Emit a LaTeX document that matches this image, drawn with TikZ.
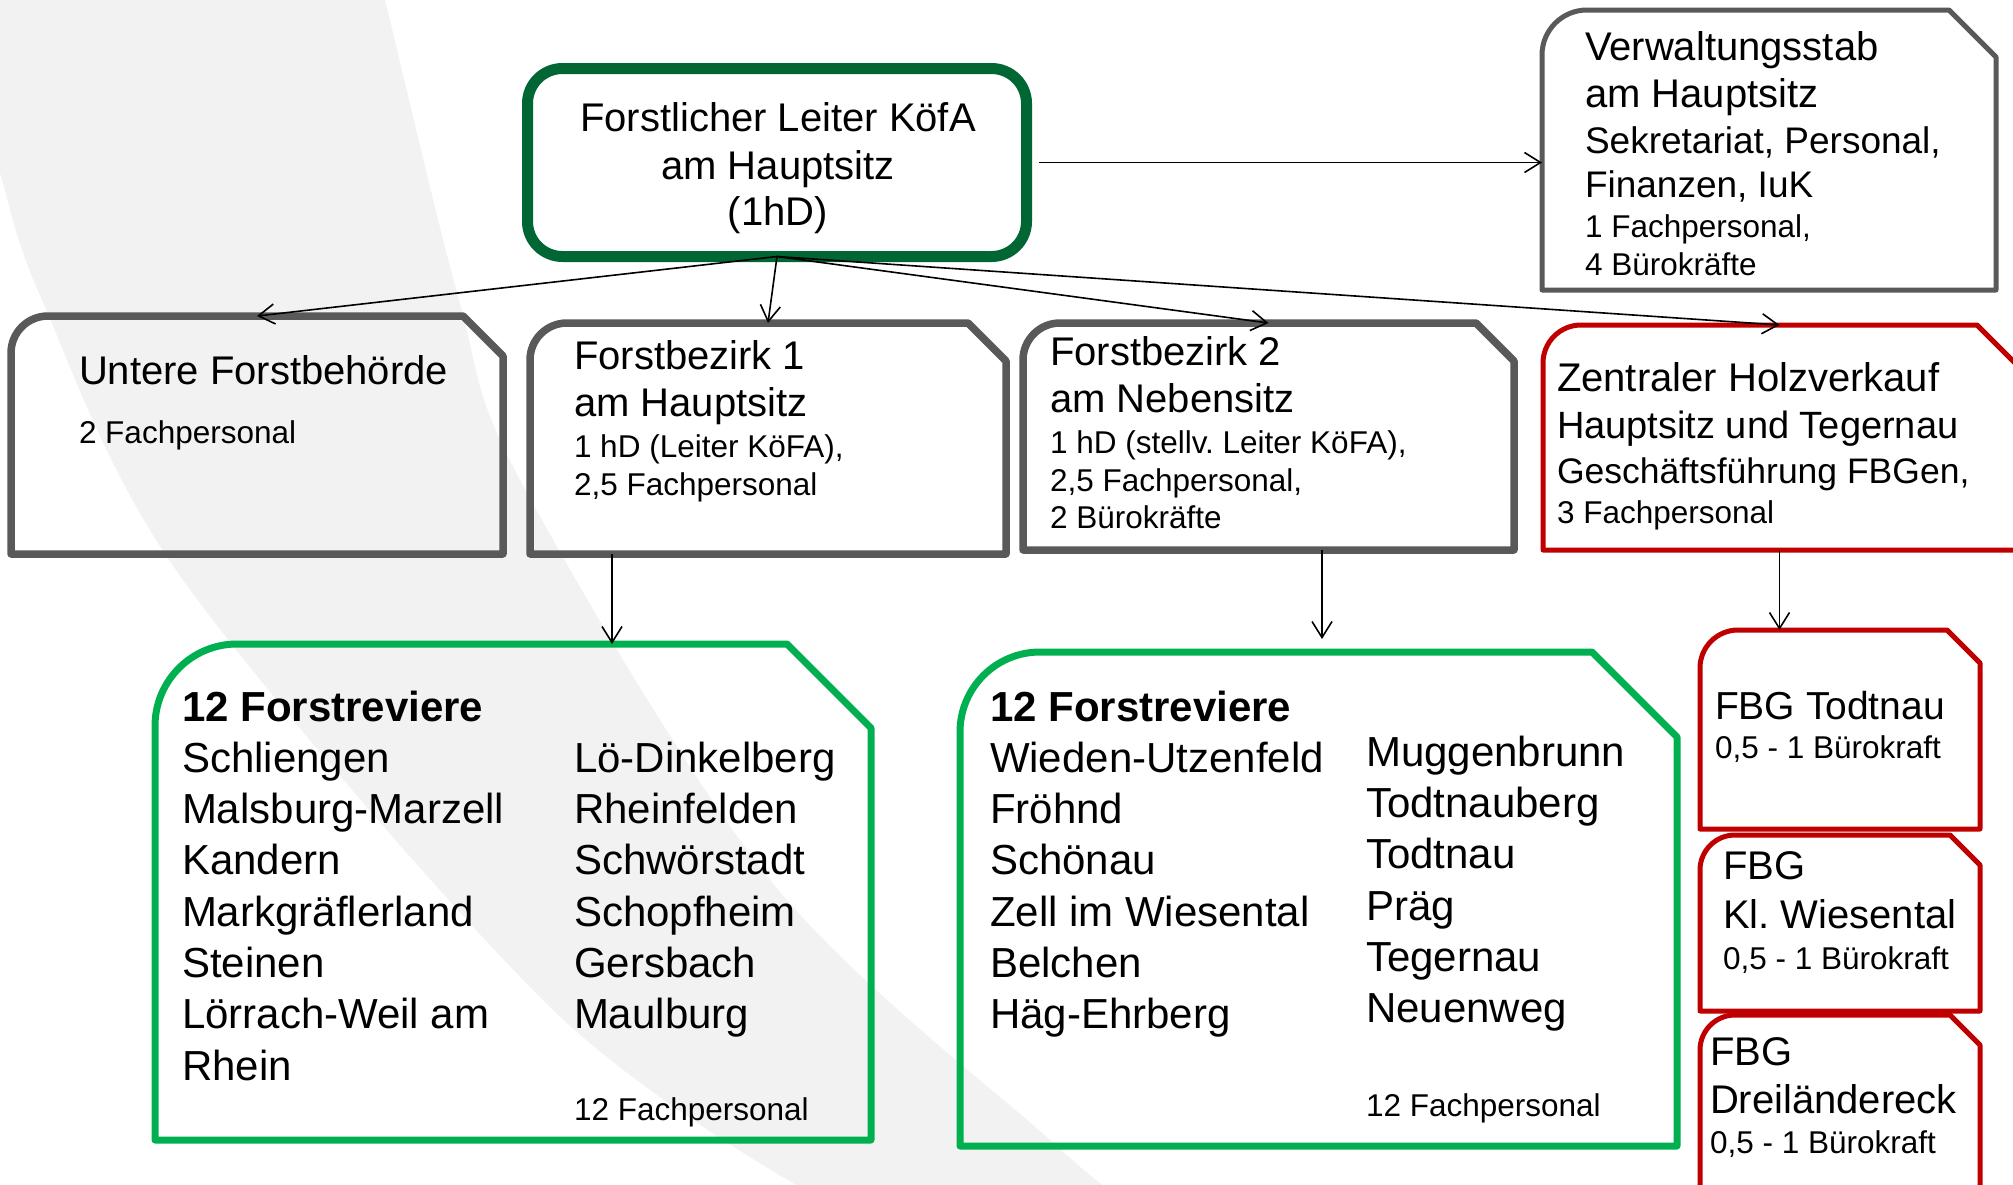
\documentclass[tikz,border=0pt]{standalone}
\usepackage{fontspec}
\setmainfont{Liberation Sans}
\usetikzlibrary{arrows.meta}
\definecolor{topgreen}{HTML}{006633}
\definecolor{lgreen}{HTML}{00B050}
\definecolor{boxgray}{HTML}{595959}
\definecolor{boxred}{HTML}{C00000}
\definecolor{bandgray}{HTML}{F2F2F2}
\newcommand\fsz[1]{\fontsize{#1}{#1}\selectfont}
% #1 name, #2 style, #3 L, #4 T, #5 R, #6 B, #7 radius, #8 snip
\newcommand\snipshape[8]{%
 \pgfmathsetmacro\snW{#5-#3}\pgfmathsetmacro\snH{#6-#4}%
 \node[inner sep=0pt,outer sep=0pt,minimum width=\snW pt,minimum height=\snH pt,anchor=north west] (#1) at (#3,#4) {};%
 \draw[#2] ({#3},{#6}) -- ({#3},{#4+#7}) .. controls ({#3},{#4+0.4477*#7}) and ({#3+0.4477*#7},{#4}) .. ({#3+#7},{#4}) -- ({#5-#8},{#4}) -- ({#5},{#4+#8}) -- ({#5},{#6}) -- cycle;}
\begin{document}
\begin{tikzpicture}[x=1pt,y=-1pt,line join=round,
  txt/.style={inner sep=0pt,outer sep=0pt,anchor=base west},
  ctxt/.style={inner sep=0pt,outer sep=0pt,anchor=base},
  arr/.style={line width=1.6pt,-{Straight Barb[length=16pt,width=20pt]}},
  fbig/.style={font=\fsz{40}},
  fsm/.style={font=\fsz{31.5}},
  flist/.style={font=\fsz{42}},
  fhead/.style={font=\bfseries\fsz{42}},
  graybox/.style={draw=boxgray,line width=7.5pt},
  redbox/.style={draw=boxred,line width=5pt},
  greenbox/.style={draw=lgreen,line width=7pt}]
\useasboundingbox (0,0) rectangle (2013,1184);
\clip (0,0) rectangle (2013,1184);
\fill[white] (0,0) rectangle (2013,1184);
% background swoosh
\fill[bandgray] plot[smooth,tension=0.55] coordinates {(375,-40) (385,0) (459,300) (520,480) (770,880) (1050,1140) (1110,1190)}
  -- plot[smooth,tension=0.55] coordinates {(805,1190) (550,1007) (183,580) (42,300) (0,173) (-20,110)}
  -- (-20,-40) -- cycle;

% boxes
\node[draw=topgreen,line width=11pt,rounded corners=35pt,minimum width=499pt,minimum height=188pt,inner sep=0pt,outer sep=0pt,anchor=north west] (top) at (527.5,68.5) {};
\snipshape{vw}{draw=boxgray,line width=5pt}{1542}{10}{1996}{290}{45}{47}
\snipshape{ufb}{graybox}{11}{316}{503}{554}{37}{40}
\snipshape{fb1}{graybox}{530}{323}{1006}{554}{37}{38}
\snipshape{fb2}{graybox}{1023}{323}{1514}{550}{37}{38}
\snipshape{zh}{redbox}{1543}{325}{2016}{550}{38}{39}
\snipshape{fbgA}{redbox}{1700}{630}{1980}{829}{38}{33}
\snipshape{fbgB}{redbox}{1700}{835}{1980}{1011}{35}{30}
\snipshape{fbgC}{redbox}{1700}{1015}{1980}{1210}{35}{30}
\snipshape{lst1}{greenbox}{155}{644}{871}{1140}{82}{84}
\snipshape{lst2}{greenbox}{960}{652}{1677}{1146}{80}{85}

% connectors
\draw[arr] (top.south) -- (ufb.north);
\draw[arr] (top.south) -- (fb1.north);
\draw[arr] (top.south) -- (fb2.north);
\draw[arr] (top.south) -- (zh.north);
\draw[arr] ([xshift=12pt]top.east) -- (vw.west |- top.east);
\coordinate (c1) at (612,0);
\coordinate (c2) at (1322,0);
\draw[arr] (fb1.south -| c1) -- (lst1.north -| c1);
\path (lst2.north -| c2) ++(0,-13) coordinate (c2t);
\draw[arr] (fb2.south -| c2) -- (c2t);
\draw[arr] (zh.south) -- (fbgA.north -| zh.south);

% texts: top box
\node[ctxt,fbig] (t1) at (778,131) {Forstlicher Leiter KöfA};
\node[ctxt,fbig] (t2) at (778,179) {am Hauptsitz};
\node[ctxt,fbig] (t3) at (778,225) {(1hD)};
% Verwaltungsstab
\node[txt,fbig] (v1) at (1585,60) {Verwaltungsstab};
\node[txt,fbig] (v2) at (1585,107) {am Hauptsitz};
\node[txt,font=\fsz{37}] (v3) at (1585,153) {Sekretariat, Personal,};
\node[txt,font=\fsz{37}] (v4) at (1585,197) {Finanzen, IuK};
\node[txt,fsm] (v5) at (1585,237) {1 Fachpersonal,};
\node[txt,fsm] (v6) at (1585,275) {4 Bürokräfte};
% Untere Forstbehoerde
\node[txt,fbig] (u1) at (79,384) {Untere Forstbehörde};
\node[txt,fsm] (u2) at (79,443) {2 Fachpersonal};
% Forstbezirk 1
\node[txt,fbig] (b1) at (574,369) {Forstbezirk 1};
\node[txt,fbig] (b2) at (574,416) {am Hauptsitz};
\node[txt,fsm] (b3) at (574,457) {1 hD (Leiter KöFA),};
\node[txt,fsm] (b4) at (574,495) {2,5 Fachpersonal};
% Forstbezirk 2
\node[txt,fbig] (n1) at (1050,365) {Forstbezirk 2};
\node[txt,fbig] (n2) at (1050,412) {am Nebensitz};
\node[txt,fsm] (n3) at (1050,453) {1 hD (stellv.\ Leiter KöFA),};
\node[txt,fsm] (n4) at (1050,491) {2,5 Fachpersonal,};
\node[txt,fsm] (n5) at (1050,528) {2 Bürokräfte};
% Zentraler Holzverkauf
\node[txt,fbig] (z1) at (1557,391) {Zentraler Holzverkauf};
\node[txt,font=\fsz{38}] (z2) at (1557,438) {Hauptsitz und Tegernau};
\node[txt,font=\fsz{35.5}] (z3) at (1557,483) {Geschäftsführung FBGen,};
\node[txt,fsm] (z4) at (1557,523) {3 Fachpersonal};
% FBGs
\node[txt,font=\fsz{39}] (fa1) at (1715,719) {FBG Todtnau};
\node[txt,fsm] (fa2) at (1715,758) {0,5 - 1 Bürokraft};
\node[txt,fbig] (fb1t) at (1723,879) {FBG};
\node[txt,fbig] (fb2t) at (1723,928) {Kl.\ Wiesental};
\node[txt,fsm] (fb3t) at (1723,969) {0,5 - 1 Bürokraft};
\node[txt,fbig] (fc1) at (1710,1065) {FBG};
\node[txt,fbig] (fc2) at (1710,1113) {Dreiländereck};
\node[txt,fsm] (fc3) at (1710,1153) {0,5 - 1 Bürokraft};
% list 1
\node[txt,fhead] (h1) at (182,721) {12 Forstreviere};
\foreach \nm [count=\i] in {Schliengen,Malsburg-Marzell,Kandern,Markgräflerland,Steinen,Lörrach-Weil am,Rhein}
  \node[txt,flist] (la\i) at (182,{721+51.3*\i}) {\nm};
\foreach \nm [count=\i] in {Lö-Dinkelberg,Rheinfelden,Schwörstadt,Schopfheim,Gersbach,Maulburg}
  \node[txt,flist] (lb\i) at (574,{721+51.3*\i}) {\nm};
\node[txt,fsm] (lf1) at (574,1120) {12 Fachpersonal};
% list 2
\node[txt,fhead] (h2) at (990,721) {12 Forstreviere};
\foreach \nm [count=\i] in {Wieden-Utzenfeld,Fröhnd,Schönau,Zell im Wiesental,Belchen,Häg-Ehrberg}
  \node[txt,flist] (ma\i) at (990,{721+51.3*\i}) {\nm};
\foreach \nm [count=\i] in {Muggenbrunn,Todtnauberg,Todtnau,Präg,Tegernau,Neuenweg}
  \node[txt,flist] (mb\i) at (1366,{714.8+51.3*\i}) {\nm};
\node[txt,fsm] (lf2) at (1366,1116) {12 Fachpersonal};
\end{tikzpicture}
\end{document}
